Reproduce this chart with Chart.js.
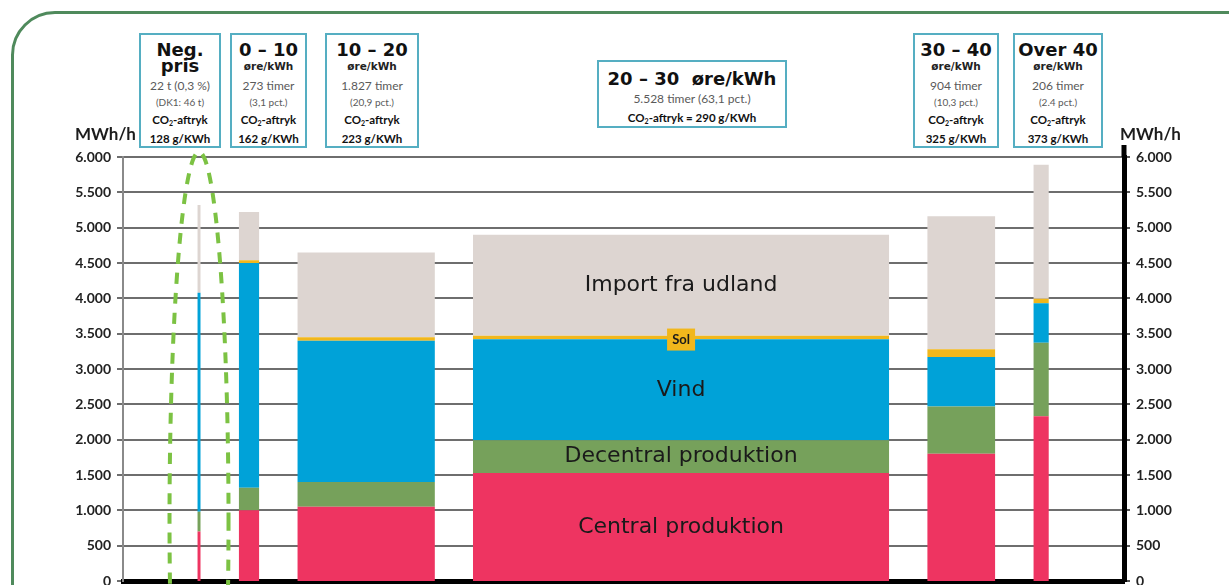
<!DOCTYPE html>
<html>
<head>
<meta charset="utf-8">
<script src="https://cdn.jsdelivr.net/npm/chart.js@4/dist/chart.umd.min.js"></script>
<style>
  body { margin: 0; background: #fff; width: 1229px; height: 585px; overflow: hidden; position: relative; font-family: Lato, sans-serif; }
  #frame { position: absolute; left: 11px; top: 11px; width: 1260px; height: 640px; border: 3px solid #4f8a5c; border-radius: 44px; box-sizing: border-box; }
  #wrap { position: absolute; left: 0; top: 0; width: 1229px; height: 585px; }
  .unit { position: absolute; top: 123px; font: bold 17px Lato, sans-serif; color: #1c1c1c; }
  .box { position: absolute; top: 33px; height: 115px; border: 2px solid #55aec2; background: #fff; box-sizing: border-box; z-index: 2; }
  .box div { position: absolute; left: 0; right: 0; height: 16px; line-height: 16px; text-align: center; white-space: nowrap; }
  .r1 { top: 7px; } .r2 { top: 23px; } .r3 { top: 43px; } .r4 { top: 59px; } .r5 { top: 77px; } .r6 { top: 96px; }
  .big { font: bold 18px "DejaVu Sans", sans-serif; color: #111; }
  .ore { font: bold 10.5px "DejaVu Sans", sans-serif; color: #222; }
  .gray { font: 12px Lato, sans-serif; color: #5a5a5a; }
  .small { font: 10px Lato, sans-serif; color: #5a5a5a; }
  .co2 { font: bold 11.5px Lato, sans-serif; color: #111; }
  .co2 span { font-size: 7px; position: relative; top: 2px; }
  #mid { top: 60px; height: 68px; }
  #mid .r1 { top: 9px; } #mid .r2 { top: 29px; } #mid .r3 { top: 48px; }
</style>
</head>
<body>
<div id="frame"></div>
<div id="wrap"><canvas id="chart" width="1229" height="585"></canvas></div>
<div class="unit" style="left:75px">MWh/h</div>
<div class="unit" style="left:1120px">MWh/h</div>

<div class="box" style="left:139px;width:82px">
  <div class="r1 big">Neg.</div><div class="r2 big">pris</div>
  <div class="r3 gray">22 t (0,3 %)</div><div class="r4 small">(DK1: 46 t)</div>
  <div class="r5 co2">CO<span>2</span>-aftryk</div><div class="r6 co2">128 g/KWh</div>
</div>
<div class="box" style="left:230px;width:77px">
  <div class="r1 big">0 – 10</div><div class="r2 ore">øre/kWh</div>
  <div class="r3 gray">273 timer</div><div class="r4 small">(3,1 pct.)</div>
  <div class="r5 co2">CO<span>2</span>-aftryk</div><div class="r6 co2">162 g/KWh</div>
</div>
<div class="box" style="left:325px;width:94px">
  <div class="r1 big">10 – 20</div><div class="r2 ore">øre/kWh</div>
  <div class="r3 gray">1.827 timer</div><div class="r4 small">(20,9 pct.)</div>
  <div class="r5 co2">CO<span>2</span>-aftryk</div><div class="r6 co2">223 g/KWh</div>
</div>
<div class="box" id="mid" style="left:597px;width:190px">
  <div class="r1 big">20 – 30&nbsp; øre/kWh</div>
  <div class="r2 gray">5.528 timer (63,1 pct.)</div>
  <div class="r3 co2">CO<span>2</span>-aftryk = 290 g/KWh</div>
</div>
<div class="box" style="left:913px;width:86px">
  <div class="r1 big">30 – 40</div><div class="r2 ore">øre/kWh</div>
  <div class="r3 gray">904 timer</div><div class="r4 small">(10,3 pct.)</div>
  <div class="r5 co2">CO<span>2</span>-aftryk</div><div class="r6 co2">325 g/KWh</div>
</div>
<div class="box" style="left:1013px;width:90px">
  <div class="r1 big">Over 40</div><div class="r2 ore">øre/kWh</div>
  <div class="r3 gray">206 timer</div><div class="r4 small">(2.4 pct.)</div>
  <div class="r5 co2">CO<span>2</span>-aftryk</div><div class="r6 co2">373 g/KWh</div>
</div>

<script>
// prisintervaller og antal timer i hvert interval
const intervaller = ["Neg. pris", "0 – 10", "10 – 20", "20 – 30", "30 – 40", "Over 40"];
const timer = [22, 273, 1827, 5528, 904, 206];

// gennemsnitlig produktion pr. kilde (MWh/h)
const central = [700, 1000, 1050, 1530, 1800, 2330];
const decentral = [280, 320, 350, 460, 670, 1040];
const vind = [3100, 3180, 2000, 1430, 700, 560];
const sol = [0, 40, 50, 50, 110, 65];
const importUdland = [1240, 680, 1200, 1430, 1880, 1895];

const yTicks = [0, 500, 1000, 1500, 2000, 2500, 3000, 3500, 4000, 4500, 5000, 5500, 6000];

// luft på x-aksen, regnet i timer
const forrest = 987;
const mellemrum = 505;
const bagerst = 998;
const minBredde = 45; // ellers forsvinder søjlen med negative priser

const lag = [
  { navn: "Central produktion", data: central, farve: "#ee3461" },
  { navn: "Decentral produktion", data: decentral, farve: "#76a15b" },
  { navn: "Vind", data: vind, farve: "#00a2d8" },
  { navn: "Sol", data: sol, farve: "#f1b71c" },
  { navn: "Import fra udland", data: importUdland, farve: "#ddd5d1" },
];

// søjlernes start og slut på x-aksen
const start = [];
const slut = [];
let pos = forrest;
timer.forEach((t) => {
  const b = Math.max(t, minBredde);
  start.push(pos);
  slut.push(pos + b);
  pos += b + mellemrum;
});
const xMax = pos - mellemrum + bagerst;

// bund for hvert lag i hver søjle
const bund = lag.map(() => []);
intervaller.forEach((_, c) => {
  let sum = 0;
  lag.forEach((l, i) => {
    bund[i][c] = sum;
    sum += l.data[c];
  });
});

const datasets = [];
lag.forEach((l, i) => {
  intervaller.forEach((_, c) => {
    if (!l.data[c]) return;
    const top = bund[i][c] + l.data[c];
    datasets.push({
      label: l.navn,
      data: [{ x: start[c], y: top }, { x: slut[c], y: top }],
      backgroundColor: l.farve,
      borderColor: "rgba(0,0,0,0)",
      borderWidth: 0,
      pointRadius: 0,
      fill: { value: bund[i][c] },
    });
  });
});

function tal(v) {
  if (v < 1000) return String(v);
  return Math.floor(v / 1000) + "." + String(v % 1000).padStart(3, "0");
}

const tekster = {
  id: "tekster",
  afterDatasetsDraw(chart) {
    const { ctx, chartArea } = chart;
    const x = chart.scales.x;
    const y = chart.scales.y;
    const c = 3;
    const cx = x.getPixelForValue((start[c] + slut[c]) / 2);
    ctx.save();
    ctx.textAlign = "center";
    ctx.textBaseline = "middle";
    ctx.fillStyle = "#1a1a1a";
    ctx.font = '22px "DejaVu Sans"';
    [0, 1, 2, 4].forEach((i) => {
      const midt = bund[i][c] + lag[i].data[c] / 2;
      ctx.fillText(lag[i].navn, cx, y.getPixelForValue(midt));
    });

    // lille mærkat til solcellelaget
    const sy = y.getPixelForValue(bund[3][c] + sol[c] / 2) + 2;
    ctx.fillStyle = lag[3].farve;
    ctx.fillRect(cx - 14, sy - 11, 28, 22);
    ctx.fillStyle = "#1a1a1a";
    ctx.font = "bold 13px Lato";
    ctx.fillText("Sol", cx, sy);

    // højre akse går lidt op over 6.000
    ctx.strokeStyle = "#000";
    ctx.lineWidth = 5;
    ctx.beginPath();
    ctx.moveTo(chartArea.right, chartArea.top);
    ctx.lineTo(chartArea.right, chartArea.top - 12);
    ctx.stroke();

    // stiplet ring om de negative priser
    const nx = x.getPixelForValue((start[0] + slut[0]) / 2);
    const topY = y.getPixelForValue(6000) - 5;
    ctx.strokeStyle = "#7cc243";
    ctx.lineWidth = 4;
    ctx.setLineDash([11, 9]);
    ctx.beginPath();
    ctx.ellipse(nx, topY + 368, 29.5, 368, 0, 0, Math.PI * 2);
    ctx.stroke();
    ctx.restore();
  },
};

const tickFont = { family: "Lato", weight: "bold", size: 14 };

new Chart(document.getElementById("chart"), {
  type: "line",
  data: { datasets },
  options: {
    responsive: false,
    animation: false,
    events: [],
    layout: { padding: { top: 157, bottom: 4, left: 0, right: 0 } },
    plugins: { legend: { display: false }, tooltip: { enabled: false } },
    scales: {
      x: {
        type: "linear",
        min: 0,
        max: xMax,
        ticks: { display: false },
        grid: { display: false, drawTicks: false },
        border: { display: true, color: "#000", width: 5 },
        afterFit(s) { s.height = 0; },
      },
      y: {
        position: "left",
        min: 0,
        max: 6000,
        afterBuildTicks(s) { s.ticks = yTicks.map((v) => ({ value: v })); },
        ticks: { callback: (v) => tal(v), font: tickFont, color: "#222", padding: 6 },
        grid: { color: "#6e6e6e", lineWidth: 2, tickLength: 6 },
        border: { color: "#8a8a8a", width: 2 },
        afterFit(s) { s.width = 123; s.paddingTop = 0; s.paddingBottom = 0; },
      },
      y2: {
        position: "right",
        min: 0,
        max: 6000,
        afterBuildTicks(s) { s.ticks = yTicks.map((v) => ({ value: v })); },
        ticks: { callback: (v) => tal(v), font: tickFont, color: "#222", padding: 6 },
        grid: { drawOnChartArea: false, color: "#555", lineWidth: 2, tickLength: 6 },
        border: { color: "#000", width: 5 },
        afterFit(s) { s.width = 105; s.paddingTop = 0; s.paddingBottom = 0; },
      },
    },
  },
  plugins: [tekster],
});
</script>
</body>
</html>
